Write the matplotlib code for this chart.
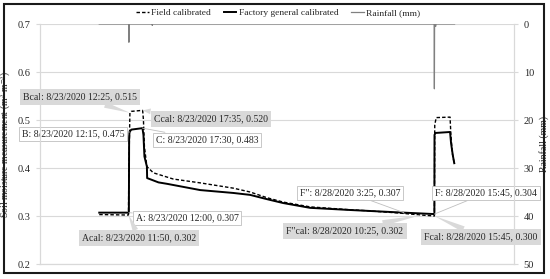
import numpy as np
import pandas as pd
import matplotlib
matplotlib.use("Agg")
from matplotlib import pyplot as plt
from matplotlib.patches import Rectangle

plt.rcParams['font.family'] = ['Liberation Serif', 'DejaVu Serif']
plt.rcParams['mathtext.fontset'] = 'stix'

# hours after 8/23/2020 00:00
start = pd.Timestamp("2020-08-23 00:00")

field_h = [0, 11.83, 12.0, 12.42, 13.0, 17.3, 17.58, 17.9, 18.3, 19.3, 21.9, 30.0,
           40.9, 54.3, 61.1, 68.0, 74.5, 85.4, 101.6, 108.5, 121.9, 130.4, 135.75,
           135.9, 136.5, 142.1, 142.4, 143.0, 143.8]
field_v = [0.303, 0.302, 0.40, 0.515, 0.518, 0.520, 0.520, 0.500, 0.444, 0.403, 0.390, 0.377,
           0.369, 0.358, 0.350, 0.338, 0.329, 0.319, 0.313, 0.311, 0.306, 0.302, 0.300,
           0.490, 0.505, 0.506, 0.473, 0.431, 0.410]

factory_h = [0, 12.0, 12.1, 12.25, 13.0, 17.5, 17.9, 18.3, 19.3, 19.4, 24.0, 27.5,
             40.9, 54.3, 61.1, 68.0, 74.5, 85.4, 101.6, 123.4, 135.75,
             135.8, 136.2, 142.1, 142.5, 143.2, 143.8]
factory_v = [0.307, 0.307, 0.460, 0.475, 0.480, 0.483, 0.469, 0.424, 0.403, 0.379, 0.370, 0.367,
             0.354, 0.348, 0.344, 0.335, 0.327, 0.317, 0.3125, 0.307, 0.304,
             0.469, 0.473, 0.475, 0.452, 0.427, 0.410]

rain_h = [0, 11.92, 12.0, 12.08, 21.42, 21.5, 21.58, 135.67, 135.75, 135.83,
          136.17, 136.25, 136.33, 143.92]
rain_mm = [0, 0, 3.8, 0, 0, 0.3, 0, 0, 13.5, 0, 0, 0.5, 0, 0]

labels = ["Bcal: 8/23/2020 12:25, 0.515", "Ccal: 8/23/2020 17:35, 0.520",
          "B: 8/23/2020 12:15, 0.475", "C: 8/23/2020 17:30, 0.483",
          "A: 8/23/2020 12:00, 0.307", "Acal: 8/23/2020 11:50, 0.302",
          "F\": 8/28/2020 3:25, 0.307", "F: 8/28/2020 15:45, 0.304",
          "F\"cal: 8/28/2020 10:25, 0.302", "Fcal: 8/28/2020 15:45, 0.300"]
label_h = [12.42, 17.58, 12.25, 17.5, 12.0, 11.83, 123.4, 135.75, 130.4, 135.75]
label_v = [0.515, 0.520, 0.475, 0.483, 0.307, 0.302, 0.307, 0.304, 0.302, 0.300]
label_cal = [True, True, False, False, False, True, False, False, True, True]
# text centres in pixels of the 550x279 picture
label_px = [(80, 97), (211, 119), (73, 134), (207, 140), (187, 218), (139, 238),
            (350, 193), (486, 193), (345, 231), (481, 237)]


def to_time(h):
    return start + pd.to_timedelta(np.array(h), unit="h")


W, H = 550, 279
fig = plt.figure(figsize=(5.5, 2.79), dpi=100)
ax = fig.add_axes([40 / W, 1 - 264 / H, (514 - 40) / W, (264 - 24) / H])
ax2 = ax.twinx()

txt = '#262626'
grid = '#d9d9d9'

ax.plot(to_time(field_h), field_v, color='black', lw=1.0, ls=(0, (2.5, 1.5)),
        label='Field calibrated', zorder=3)
ax.plot(to_time(factory_h), factory_v, color='black', lw=1.4,
        label='Factory general calibrated', zorder=3)
ax2.plot(to_time(rain_h), rain_mm, color='#808080', lw=0.9, label='Rainfall (mm)')

ax.set_xlim(pd.Timestamp("2020-08-22"), pd.Timestamp("2020-08-30"))
ax.set_ylim(0.2, 0.7)
ax.set_yticks([0.2, 0.3, 0.4, 0.5, 0.6, 0.7])
ax.set_xticks([])
ax.grid(axis='y', color=grid, lw=0.8)
ax.set_axisbelow(True)
ax2.set_ylim(50, 0)
ax2.set_yticks([0, 10, 20, 30, 40, 50])

for a in (ax, ax2):
    for s in a.spines.values():
        s.set_color(grid)
        s.set_linewidth(0.8)
    a.spines['top'].set_visible(False)
    a.tick_params(labelsize=7.5, colors=txt, length=3, color=grid, pad=4)

ax.set_ylabel(r'Soil moisture measurement (m$^{3}$ m$^{-3}$)', fontsize=7, color=txt)
ax.yaxis.set_label_coords((13 - 40) / 474, 0.5)
ax2.set_ylabel('Rainfall (mm)', fontsize=7, color=txt)
ax2.yaxis.set_label_coords((539 - 40) / 474, 0.5)

for i, lab in enumerate(labels):
    px, py = label_px[i]
    xy = (to_time([label_h[i]])[0], label_v[i])
    if label_cal[i]:
        box = dict(boxstyle='square,pad=0.35', fc='#d9d9d9', ec='none')
        arrow = dict(arrowstyle='wedge,tail_width=0.6,shrink_factor=0.5', fc='#d9d9d9',
                     ec='none', shrinkA=0, shrinkB=0)
    else:
        box = dict(boxstyle='square,pad=0.3', fc='white', ec='#bfbfbf', lw=0.6)
        arrow = dict(arrowstyle='-', color='#bfbfbf', lw=0.6, shrinkA=0, shrinkB=0)
    ax.annotate(lab, xy=xy, xycoords='data', xytext=(px / W, 1 - py / H),
                textcoords='figure fraction', ha='center', va='center',
                fontsize=7, color=txt, bbox=box, arrowprops=arrow, zorder=5)

h1, l1 = ax.get_legend_handles_labels()
h2, l2 = ax2.get_legend_handles_labels()
fig.legend(h1 + h2, l1 + l2, loc='center', bbox_to_anchor=(0.506, 1 - 13 / H), ncol=3,
           frameon=False, fontsize=6.8, handlelength=1.3, columnspacing=1.4,
           handletextpad=0.25, labelcolor=txt)

fig.patches.append(Rectangle((4 / W, 1 - 273 / H), 540 / W, 269 / H, transform=fig.transFigure,
                             fill=False, ec='#1a1a1a', lw=1.5))

fig.savefig("out.png", dpi=100)
